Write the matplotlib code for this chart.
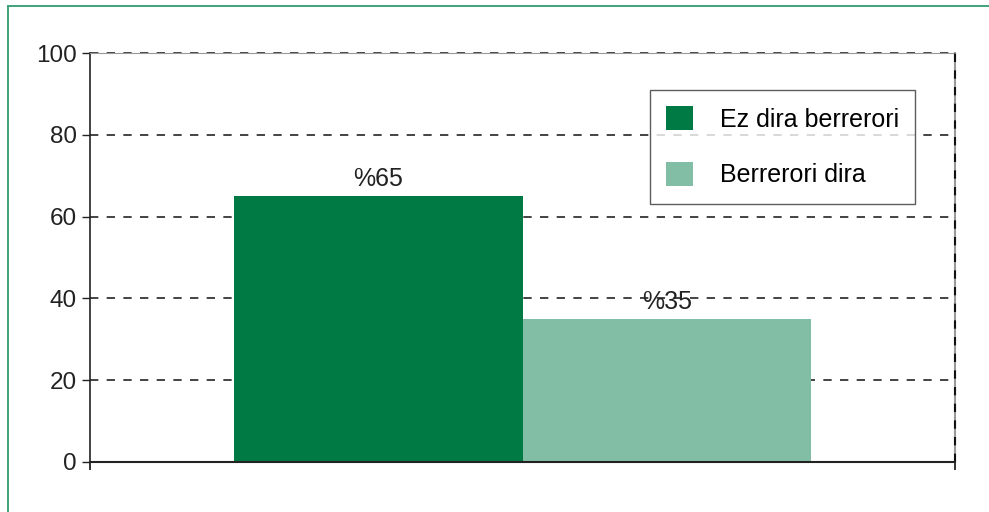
import matplotlib.pyplot as plt
from matplotlib.lines import Line2D

plt.rcParams['font.family'] = ['Liberation Sans', 'DejaVu Sans']
plt.rcParams['lines.scale_dashes'] = False

# datuak
kategoriak = ['Ez dira berrerori', 'Berrerori dira']
balioak = [65, 35]
etiketak = ['%65', '%35']
koloreak = ['#007a45', '#82bea5']
y_tickak = [0, 20, 40, 60, 80, 100]

fig = plt.figure(figsize=(9.89, 5.12), dpi=100)
ax = fig.add_axes([90 / 989, 1 - 462 / 512, 865 / 989, 409 / 512])

# kanpoko marko berdea
fig.add_artist(Line2D([8 / 989, 8 / 989], [0, 1 - 6 / 512], color='#3fa37a', lw=1.4))
fig.add_artist(Line2D([8 / 989, 1], [1 - 6 / 512, 1 - 6 / 512], color='#3fa37a', lw=1.4))

# barrak
for i, (b, k, kol) in enumerate(zip(balioak, kategoriak, koloreak)):
    ax.bar(i, b, width=1.0, color=kol, label=k, zorder=3)

for i, (b, e) in enumerate(zip(balioak, etiketak)):
    ax.text(i, b + 1.3, e, ha='center', va='bottom', fontsize=18, color='#222222', zorder=4)

ax.set_xlim(-1, 2)
ax.set_ylim(0, 100)

# grid lerroak
for y in y_tickak[1:]:
    ax.axhline(y, color='#111111', lw=1.1, dashes=(6, 6), zorder=1, clip_on=False)
ax.axvline(2, color='#111111', lw=1.5, dashes=(6, 6), zorder=5, clip_on=False)

ax.spines['top'].set_color('#999999')
ax.spines['right'].set_color('#999999')
ax.spines['right'].set_linewidth(1.5)
ax.spines['left'].set_color('#222222')
ax.spines['bottom'].set_color('#222222')
ax.spines['left'].set_linewidth(1.2)
ax.spines['bottom'].set_linewidth(1.5)
ax.spines['bottom'].set_zorder(6)

ax.set_yticks(y_tickak)
ax.set_yticklabels([str(v) for v in y_tickak], fontsize=17.5, color='#222222')
ax.set_xticks([-1, 2])
ax.set_xticklabels([])
ax.tick_params(axis='y', direction='out', length=5.8, width=1.0, color='#222222', pad=3.5)
ax.tick_params(axis='x', direction='out', length=6, width=1.3, color='#222222')

leg = ax.legend(loc='upper right', bbox_to_anchor=(825 / 865, 372 / 409), borderaxespad=0,
                fontsize=18, frameon=True, fancybox=False, edgecolor='#333333',
                handlelength=1.1, handleheight=1.1, handletextpad=1.05,
                labelspacing=1.2, borderpad=0.65)
leg.get_frame().set_linewidth(1.0)
leg.set_zorder(7)

fig.savefig('out.png', dpi=100)
